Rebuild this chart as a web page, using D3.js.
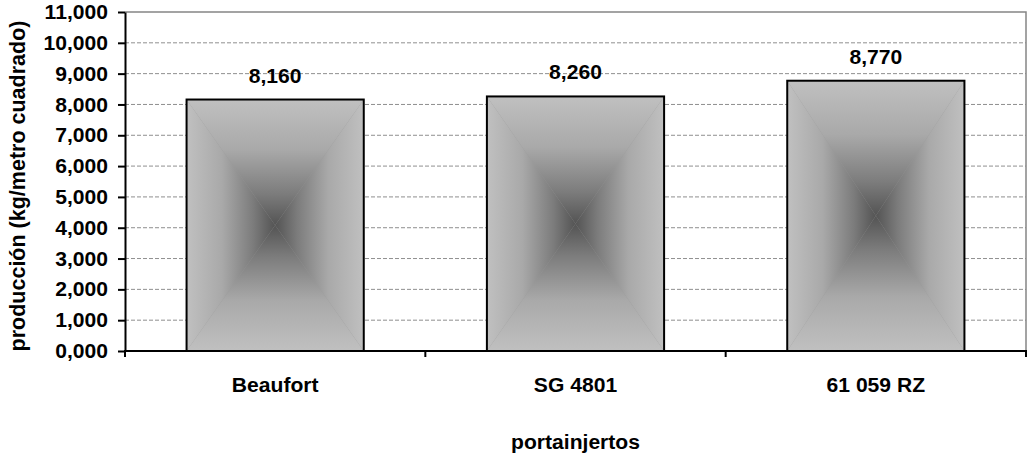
<!DOCTYPE html>
<html>
<head>
<meta charset="utf-8">
<script src="https://cdn.jsdelivr.net/npm/d3@7"></script>
<style>
  body { margin: 0; background: #fff; }
  text { font-family: "Liberation Sans", Arial, sans-serif; font-weight: bold; fill: #000; }
</style>
</head>
<body>
<script>
// data
var categories = ["Beaufort", "SG 4801", "61 059 RZ"];
var values = [8160, 8260, 8770];
var valueLabels = ["8,160", "8,260", "8,770"];
var yTicks = [0, 1000, 2000, 3000, 4000, 5000, 6000, 7000, 8000, 9000, 10000, 11000];
var yTickLabels = ["0,000", "1,000", "2,000", "3,000", "4,000", "5,000", "6,000",
                   "7,000", "8,000", "9,000", "10,000", "11,000"];
var xTitle = "portainjertos";
var yTitle = "producción (kg/metro cuadrado)";

var W = 1029, H = 459;
var plot = {left: 125, right: 1026, top: 12, bottom: 351};
var fontSize = "20.5px";
var stretchX = 1.03;

var svg = d3.select("body").append("svg")
  .attr("width", W)
  .attr("height", H);

// scales
var y = d3.scaleLinear().domain([0, 11000]).range([plot.bottom, plot.top]);
var x = d3.scaleBand().domain(categories).range([plot.left, plot.right])
  .paddingInner(0.41).paddingOuter(0.205);

// gradients for the "from centre" rectangle shading, one per side
var defs = svg.append("defs");
var sides = [
  {id: "gTop", x1: 0, y1: 0, x2: 0, y2: 1},
  {id: "gBottom", x1: 0, y1: 1, x2: 0, y2: 0},
  {id: "gLeft", x1: 0, y1: 0, x2: 1, y2: 0},
  {id: "gRight", x1: 1, y1: 0, x2: 0, y2: 0}
];
var stops = [[0, "#c0c0c0"], [0.4, "#a9a9a9"], [0.75, "#7c7c7c"], [1, "#545454"]];
sides.forEach(function(s) {
  var g = defs.append("linearGradient").attr("id", s.id)
    .attr("x1", s.x1).attr("y1", s.y1).attr("x2", s.x2).attr("y2", s.y2);
  stops.forEach(function(st) {
    g.append("stop").attr("offset", st[0]).attr("stop-color", st[1]);
  });
});

// gridlines
svg.append("g").selectAll("line")
  .data(yTicks.filter(function(d) { return d > 0 && d < 11000; }))
  .enter().append("line")
    .attr("x1", plot.left).attr("x2", plot.right)
    .attr("y1", function(d) { return y(d); })
    .attr("y2", function(d) { return y(d); })
    .style("stroke", "#8f8f8f")
    .style("stroke-width", 1)
    .style("stroke-dasharray", "4,2");

// plot border top / right
svg.append("path")
  .attr("d", "M" + plot.left + "," + plot.top + "H" + plot.right + "V" + plot.bottom)
  .style("fill", "none")
  .style("stroke", "#858585")
  .style("stroke-width", 1.5);

// bars
var bars = svg.append("g").selectAll("g")
  .data(values)
  .enter().append("g");

bars.each(function(d, i) {
  var g = d3.select(this);
  var x0 = x(categories[i]), x1 = x0 + x.bandwidth();
  var y0 = y(d), y1 = y(0);
  var cx = (x0 + x1) / 2, cy = (y0 + y1) / 2;
  g.append("rect")
    .attr("x", x0).attr("y", y0)
    .attr("width", x1 - x0).attr("height", y1 - y0)
    .style("fill", "#999");
  var tris = [
    ["gTop", [[x0, y0], [x1, y0], [cx, cy]]],
    ["gBottom", [[x0, y1], [x1, y1], [cx, cy]]],
    ["gLeft", [[x0, y0], [x0, y1], [cx, cy]]],
    ["gRight", [[x1, y0], [x1, y1], [cx, cy]]]
  ];
  tris.forEach(function(t) {
    g.append("polygon")
      .attr("points", t[1].map(function(p) { return p.join(","); }).join(" "))
      .style("fill", "url(#" + t[0] + ")");
  });
  g.append("rect")
    .attr("x", x0).attr("y", y0)
    .attr("width", x1 - x0).attr("height", y1 - y0)
    .style("fill", "none")
    .style("stroke", "#000")
    .style("stroke-width", 2);
});

// value labels
svg.append("g").selectAll("text")
  .data(values)
  .enter().append("text")
    .attr("x", function(d, i) { return x(categories[i]) + x.bandwidth() / 2; })
    .attr("y", function(d) { return y(d) - 17; })
    .attr("text-anchor", "middle")
    .style("font-size", fontSize)
    .text(function(d, i) { return valueLabels[i]; });

// y axis
var yAxis = svg.append("g")
  .attr("transform", "translate(" + plot.left + ",0)")
  .call(d3.axisLeft(y)
    .tickValues(yTicks)
    .tickFormat(function(d, i) { return yTickLabels[i]; })
    .tickSize(7)
    .tickSizeOuter(0)
    .tickPadding(10));
yAxis.select(".domain").style("stroke", "#000").style("stroke-width", 2);
yAxis.selectAll(".tick line").style("stroke", "#000").style("stroke-width", 2);
yAxis.selectAll(".tick text")
  .style("font-size", fontSize)
  .style("font-family", "'Liberation Sans', Arial, sans-serif")
  .style("font-weight", "bold")
  .attr("fill", "#000");

// x axis: line plus ticks between categories
svg.append("line")
  .attr("x1", plot.left - 1).attr("x2", plot.right + 1)
  .attr("y1", plot.bottom).attr("y2", plot.bottom)
  .style("stroke", "#000").style("stroke-width", 2);

var bounds = [plot.left].concat(categories.map(function(c) {
  return x(c) + x.bandwidth() + x.step() * x.paddingInner() / 2;
}));
svg.append("g").selectAll("line")
  .data(bounds)
  .enter().append("line")
    .attr("x1", function(d) { return d; })
    .attr("x2", function(d) { return d; })
    .attr("y1", plot.bottom)
    .attr("y2", plot.bottom + 6)
    .style("stroke", "#000").style("stroke-width", 2);

svg.append("g").selectAll("text")
  .data(categories)
  .enter().append("text")
    .attr("x", function(d) { return x(d) + x.bandwidth() / 2; })
    .attr("y", 392)
    .attr("text-anchor", "middle")
    .style("font-size", fontSize)
    .text(function(d) { return d; });

// axis titles
svg.append("text")
  .attr("x", (plot.left + plot.right) / 2)
  .attr("y", 449)
  .attr("text-anchor", "middle")
  .style("font-size", fontSize)
  .text(xTitle);

svg.append("text")
  .attr("class", "ytitle")
  .attr("text-anchor", "middle")
  .attr("transform", "translate(25,186) rotate(-90)")
  .style("font-size", "21.5px")
  .text(yTitle);

// widen the horizontal texts a little about their anchor
svg.selectAll("text:not(.ytitle)").each(function() {
  var t = d3.select(this);
  var tx = +t.attr("x") || 0;
  t.attr("transform", "translate(" + tx + ",0) scale(" + stretchX + ",1) translate(" + (-tx) + ",0)");
});
</script>
</body>
</html>
